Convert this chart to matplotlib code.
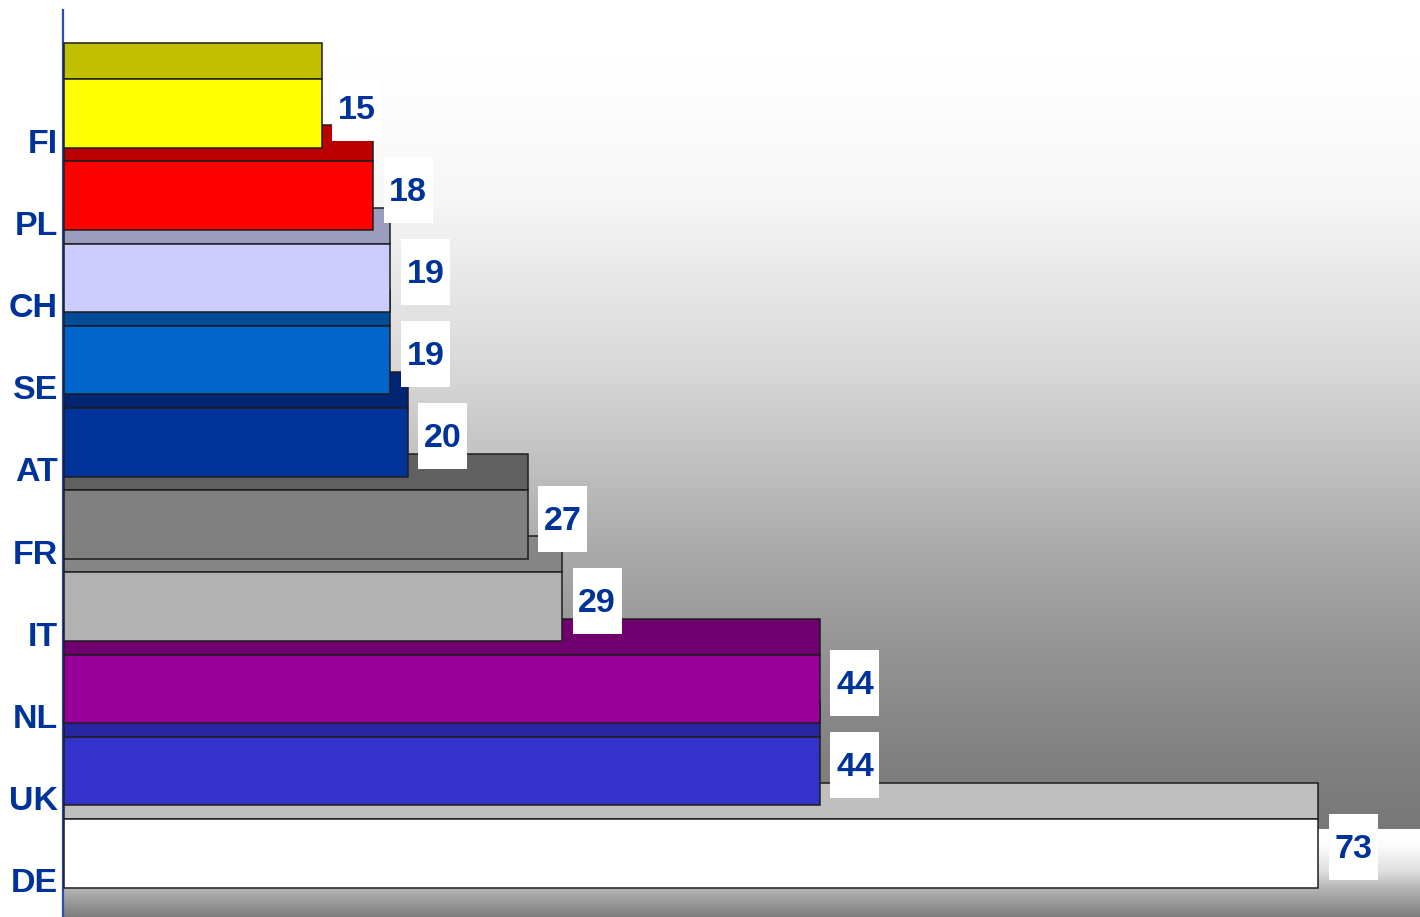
import numpy as np
import matplotlib
matplotlib.use("Agg")
import matplotlib.pyplot as plt
from matplotlib.patches import Rectangle

# data, top to bottom
countries = ['FI', 'PL', 'CH', 'SE', 'AT', 'FR', 'IT', 'NL', 'UK', 'DE']
values = [15, 18, 19, 19, 20, 27, 29, 44, 44, 73]
front_colors = ['#FFFF00', '#FF0000', '#CCCCFF', '#0066CC', '#003399',
                '#808080', '#B2B2B2', '#990099', '#3333CC', '#FFFFFF']
top_colors = ['#C0C000', '#BB0000', '#9C9CBE', '#004C99', '#002673',
              '#606060', '#868686', '#700070', '#2626A0', '#BFBFBF']

W, H = 1420, 917
fig = plt.figure(figsize=(W / 100, H / 100), dpi=100)

# background gradient (pixel space)
bg = fig.add_axes([0, 0, 1, 1])
img = np.full((H, W), 255.0)
rows = np.arange(H)
upper = np.interp(rows, [0, 60, 120, 200, 300, 360, 450, 550, 650, 750, 828],
                  [255, 255, 252, 246, 228, 218, 196, 170, 148, 130, 120])
lower = np.interp(rows, [829, 845, 870, 890, 917], [255, 252, 224, 176, 124])
col = np.where(rows < 829, upper, lower)
img[:, 64:] = col[:, None]
img = np.repeat(img[:, :, None] / 255.0, 3, axis=2)
bg.imshow(img, aspect='auto', extent=[0, W, H, 0], interpolation='bilinear')
bg.axis('off')

# main axes: 17.18 px per unit, 82.2 px per category
px_x = 17.18
px_y = 82.2
ax = fig.add_axes([0, 0, 1, 1])
ax.patch.set_alpha(0)
ax.set_xlim(-64 / px_x, (W - 64) / px_x)
ax.set_ylim((H - 113.5) / px_y, -113.5 / px_y)
ax.axis('off')

front_h = 68.5 / px_y
top_h = 36 / px_y
edge = '#1e1e1e'
txt_color = '#003399'
font = ['Liberation Sans', 'DejaVu Sans']

ypos = np.arange(len(countries))
n = len(countries)
for i in range(n - 1, -1, -1):
    z = 10 + (n - i) * 2
    ax.barh(ypos[i] - front_h / 2 - top_h / 2, values[i], height=top_h,
            color=top_colors[i], edgecolor=edge, linewidth=1.1, zorder=z)
    ax.barh(ypos[i], values[i], height=front_h, color=front_colors[i],
            edgecolor=edge, linewidth=1.1, zorder=z + 1)

# category labels
for i, c in enumerate(countries):
    ax.text(-6 / px_x, ypos[i] + 39 / px_y, c, ha='right', va='baseline',
            fontsize=24.5, fontweight='bold', color=txt_color, family=font,
            zorder=50)

# value labels in white boxes
bw = 49 / px_x
bh = 66 / px_y
for i, v in enumerate(values):
    cx = v + 35 / px_x
    cy = ypos[i] - 6 / px_y
    ax.add_patch(Rectangle((cx - bw / 2, cy - bh / 2), bw, bh,
                           facecolor='white', edgecolor='none', zorder=60))
    ax.text(cx, cy + 11 / px_y, str(v), ha='center', va='baseline',
            fontsize=24.5, fontweight='bold', color=txt_color, family=font,
            zorder=61)

# left axis line
ax.axvline(-0.6 / px_x, ymin=0, ymax=1 - 10 / H, color='#2a4cb0',
           linewidth=1.6, zorder=5)

fig.savefig('out.png', dpi=100)
